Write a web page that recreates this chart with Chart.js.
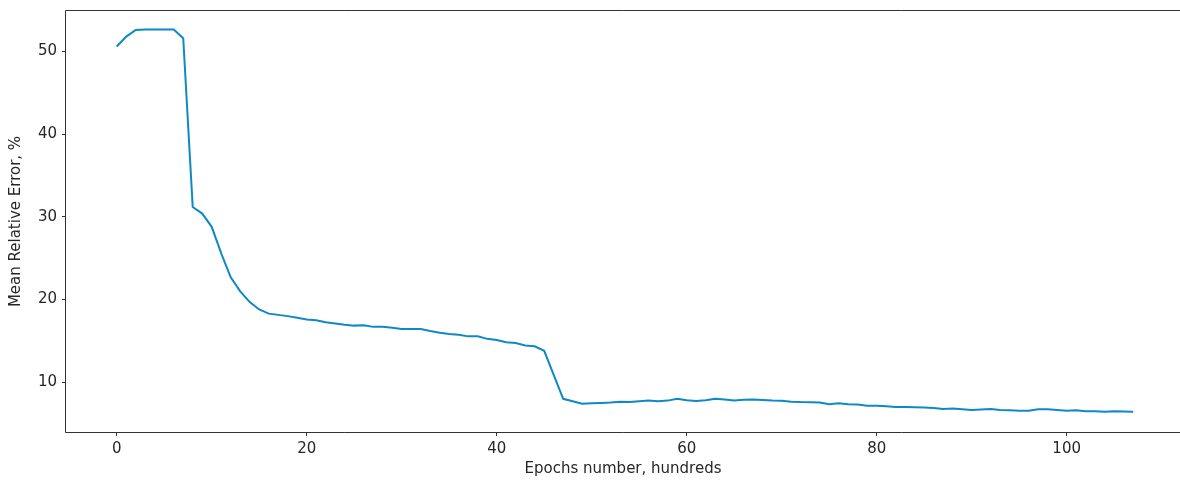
<!DOCTYPE html>
<html>
<head>
<meta charset="utf-8">
<script src="https://cdn.jsdelivr.net/npm/chart.js@4.4.1/dist/chart.umd.min.js"></script>
<style>
  html, body { margin: 0; padding: 0; background: #fff; overflow: hidden; }
  #chart { width: 1180px; height: 485px; display: block; }
</style>
</head>
<body>
<canvas id="chart" width="1180" height="485"></canvas>
<script>
// epochs, in hundreds
const epochs = [];
for (let i = 0; i <= 107; i++) epochs.push(i);

// mean relative error, %
const meanRelError = [
  50.6, 51.8, 52.6, 52.65, 52.65, 52.65, 52.65, 51.6, 31.2, 30.4,
  28.8, 25.6, 22.7, 21.0, 19.7, 18.8, 18.3, 18.15, 18.0, 17.8,
  17.6, 17.5, 17.25, 17.1, 16.95, 16.85, 16.9, 16.7, 16.7, 16.6,
  16.45, 16.45, 16.45, 16.2, 16.0, 15.85, 15.75, 15.55, 15.55, 15.25,
  15.1, 14.85, 14.75, 14.45, 14.35, 13.8, 10.9, 8.0, 7.7, 7.4,
  7.45, 7.5, 7.55, 7.65, 7.6, 7.7, 7.78, 7.7, 7.78, 8.0,
  7.82, 7.74, 7.82, 8.0, 7.92, 7.8, 7.88, 7.92, 7.85, 7.78,
  7.75, 7.65, 7.6, 7.58, 7.55, 7.35, 7.45, 7.35, 7.3, 7.15,
  7.15, 7.1, 7.02, 7.0, 6.98, 6.95, 6.9, 6.78, 6.82, 6.75,
  6.66, 6.72, 6.78, 6.64, 6.62, 6.55, 6.55, 6.74, 6.74, 6.65,
  6.55, 6.62, 6.5, 6.48, 6.42, 6.5, 6.46, 6.44
];

const xTicks = [0, 20, 40, 60, 80, 100];
const yTicks = [10, 20, 30, 40, 50];

const FONT = "'DejaVu Sans', sans-serif";
const INK = "#262626";
const SPINE = "#333333";

// left, top and bottom spines; the right one lies past the picture's edge
const framePlugin = {
  id: "frame",
  afterDraw(chart) {
    const { ctx, chartArea: a } = chart;
    const l = a.left - 0.5, t = a.top - 0.5, b = a.bottom + 0.5;
    ctx.save();
    ctx.strokeStyle = SPINE;
    ctx.lineWidth = 1;
    ctx.beginPath();
    ctx.moveTo(chart.width, t);
    ctx.lineTo(l, t);
    ctx.lineTo(l, b);
    ctx.lineTo(chart.width, b);
    ctx.stroke();
    ctx.restore();
  }
};

new Chart(document.getElementById("chart"), {
  type: "line",
  data: {
    datasets: [{
      data: epochs.map((e, i) => ({ x: e, y: meanRelError[i] })),
      borderColor: "#0f88c6",
      borderWidth: 2,
      pointRadius: 0,
      tension: 0,
      fill: false
    }]
  },
  options: {
    responsive: false,
    animation: false,
    devicePixelRatio: 1,
    layout: { padding: { top: 11, right: 0, left: 0, bottom: 0 } },
    plugins: { legend: { display: false }, tooltip: { enabled: false } },
    scales: {
      x: {
        type: "linear",
        min: -5.34,
        max: 111.93,
        afterBuildTicks: (s) => { s.ticks = xTicks.map(v => ({ value: v })); },
        afterFit: (s) => { s.height = 53; s.paddingLeft = 0; s.paddingRight = 0; },
        ticks: { color: INK, font: { family: FONT, size: 15 }, padding: 4, maxRotation: 0 },
        grid: { drawOnChartArea: false, tickLength: 4, color: SPINE },
        border: { display: false },
        title: {
          display: true,
          text: "Epochs number, hundreds",
          color: INK,
          font: { family: FONT, size: 15 },
          padding: { top: 0, bottom: 7 }
        }
      },
      y: {
        min: 3.985,
        max: 54.9,
        afterBuildTicks: (s) => { s.ticks = yTicks.map(v => ({ value: v })); },
        afterFit: (s) => { s.width = 66; s.paddingTop = 0; s.paddingBottom = 0; },
        ticks: { color: INK, font: { family: FONT, size: 15 }, padding: 5 },
        grid: { drawOnChartArea: false, tickLength: 4, color: SPINE },
        border: { display: false },
        title: {
          display: true,
          text: "Mean Relative Error, %",
          color: INK,
          font: { family: FONT, size: 15 },
          padding: { top: 7, bottom: 0 }
        }
      }
    }
  },
  plugins: [framePlugin]
});
</script>
</body>
</html>
